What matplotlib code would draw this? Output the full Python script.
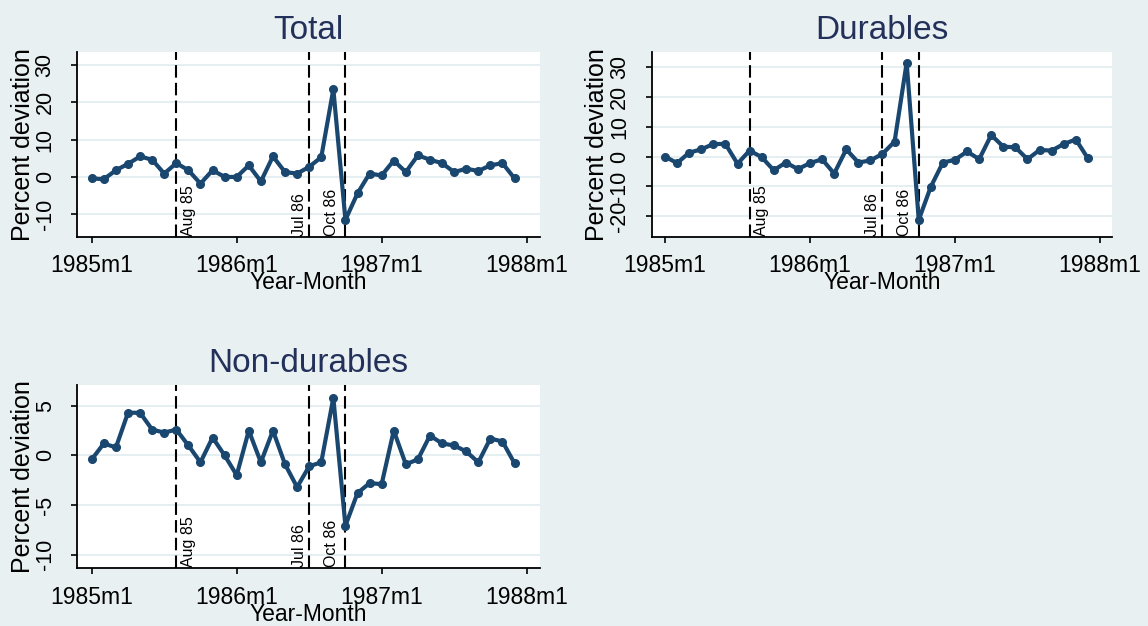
import numpy as np
import matplotlib.pyplot as plt
from matplotlib.transforms import blended_transform_factory

plt.rcParams['font.family'] = ['Liberation Sans', 'DejaVu Sans']

# monthly observations, 1985m1 .. 1987m12 (index 0 = 1985m1)
months = np.arange(36)

total = [-0.4, -0.6, 1.8, 3.5, 5.5, 4.6, 0.9, 3.7, 1.8, -1.8, 1.8, 0.0,
         0.0, 3.1, -1.2, 5.5, 1.3, 0.9, 2.7, 5.3, 23.5, -11.5, -4.4, 0.9,
         0.4, 4.4, 1.3, 5.8, 4.6, 3.7, 1.3, 2.2, 1.6, 3.1, 3.7, -0.4]

durables = [0.0, -2.2, 1.3, 2.4, 4.2, 4.2, -2.4, 2.0, -0.2, -4.6, -2.0, -4.2,
            -2.2, -0.9, -5.7, 2.4, -2.0, -1.3, 0.9, 5.0, 31.4, -21.2, -10.1, -2.0,
            -1.1, 1.7, -0.9, 7.2, 3.3, 3.1, -0.9, 2.2, 2.0, 4.2, 5.7, -0.6]

nondurables = [-0.4, 1.2, 0.8, 4.3, 4.3, 2.6, 2.3, 2.6, 1.0, -0.7, 1.8, 0.0,
               -2.0, 2.5, -0.7, 2.5, -0.9, -3.2, -1.1, -0.7, 5.8, -7.1, -3.8, -2.8,
               -2.9, 2.5, -0.9, -0.4, 2.0, 1.2, 1.0, 0.4, -0.7, 1.7, 1.4, -0.8]

xtick_pos = [0, 12, 24, 36]
xtick_labels = ['1985m1', '1986m1', '1987m1', '1988m1']

events = [7, 18, 21]
event_labels = ['Aug 85', 'Jul 86', 'Oct 86']

bg = '#e9f0f2'
navy = '#1a476f'

fig = plt.figure(figsize=(11.48, 6.26), dpi=100, facecolor=bg)


def panel(rect, y, title, yticks, ylim, xlim):
    ax = fig.add_axes(rect)
    ax.set_facecolor('white')
    for s in ['top', 'right']:
        ax.spines[s].set_visible(False)
    for s in ['left', 'bottom']:
        ax.spines[s].set_linewidth(1.3)
        ax.spines[s].set_color('black')
    ax.set_axisbelow(True)
    ax.yaxis.grid(True, color='#e3edef', linewidth=1.3)

    ax.plot(months, y, color=navy, lw=3, marker='o', ms=5.5, zorder=3)

    # event lines with labels
    trans = blended_transform_factory(ax.transData, ax.transAxes)
    offs = [(0.35, 'left'), (-0.2, 'right'), (-0.55, 'right')]
    for ev, lab, (dx, ha) in zip(events, event_labels, offs):
        ax.axvline(ev, color='black', lw=1.5, linestyle=(0, (6, 2.5)), zorder=2)
        ax.text(ev + dx, 0.005, lab, transform=trans, rotation=90,
                ha=ha, va='bottom', fontsize=11.5, color='black')

    ax.set_xlim(*xlim)
    ax.set_ylim(*ylim)
    ax.set_xticks(xtick_pos)
    ax.set_xticklabels(xtick_labels, fontsize=16.5)
    ax.set_yticks(yticks)
    ax.set_yticklabels([str(t) for t in yticks], rotation=90, va='center',
                       fontsize=15.5)
    ax.tick_params(axis='both', direction='out', length=4.5, width=1.2)
    ax.tick_params(axis='x', pad=8)
    ax.tick_params(axis='y', pad=11)
    ax.set_xlabel('Year-Month', fontsize=16.5, labelpad=-4)
    ax.set_ylabel('Percent deviation', fontsize=18, labelpad=0)
    ax.set_title(title, fontsize=24, color='#23305a', pad=9)
    return ax


panel([0.0673, 0.622, 0.403, 0.295], total, 'Total',
      [-10, 0, 10, 20, 30], (-16, 33.5), (-1.2, 37.1))
panel([0.5677, 0.622, 0.401, 0.295], durables, 'Durables',
      [-20, -10, 0, 10, 20, 30], (-26.8, 35), (-1.1, 37.0))
panel([0.0673, 0.092, 0.403, 0.293], nondurables, 'Non-durables',
      [-10, -5, 0, 5], (-11.4, 7.1), (-1.2, 37.1))

fig.savefig('out.png', dpi=100, facecolor=bg)
